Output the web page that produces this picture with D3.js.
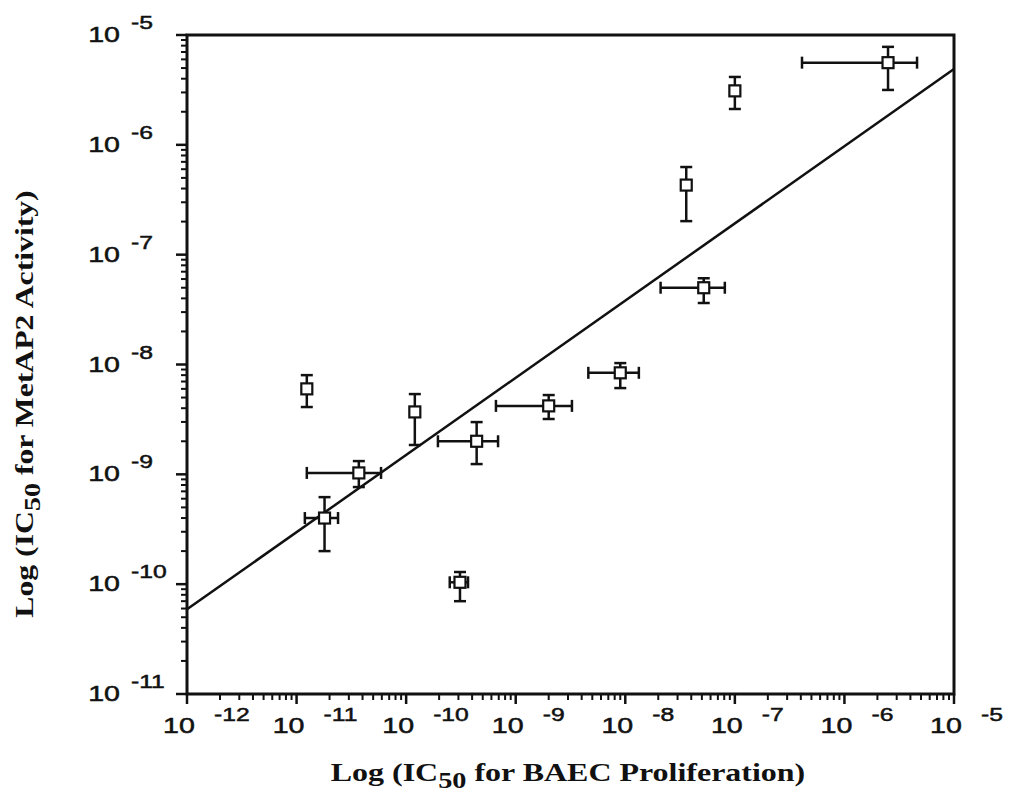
<!DOCTYPE html>
<html>
<head>
<meta charset="utf-8">
<script src="https://cdn.jsdelivr.net/npm/d3@7"></script>
<style>
  body { margin: 0; background: #fff; }
  svg { display: block; }
</style>
</head>
<body>
<svg id="chart" width="1012" height="794"></svg>
<script>
// IC50 values (molar)
const xVal = [2.5e-6, 1.0e-7, 3.6e-8, 5.2e-8, 9.0e-9, 2.0e-9, 4.4e-10, 1.2e-10, 3.7e-11, 1.8e-11, 3.1e-10, 1.24e-11];
const xLo  = [4.1e-7, 0.94e-7, null, 2.1e-8, 4.6e-9, 6.6e-10, 1.95e-10, null, 1.24e-11, 1.19e-11, 2.5e-10, null];
const xHi  = [4.6e-6, 1.065e-7, null, 8.1e-8, 1.33e-8, 3.26e-9, 6.9e-10, null, 5.9e-11, 2.39e-11, 3.67e-10, null];
const yVal = [5.6e-6, 3.1e-6, 4.3e-7, 5.0e-8, 8.4e-9, 4.2e-9, 2.0e-9, 3.7e-9, 1.03e-9, 4.0e-10, 1.04e-10, 6.0e-9];
const yLo  = [3.16e-6, 2.12e-6, 2.02e-7, 3.63e-8, 6.1e-9, 3.19e-9, 1.24e-9, 1.85e-9, 7.66e-10, 2.0e-10, 7.0e-11, 4.1e-9];
const yHi  = [7.8e-6, 4.15e-6, 6.28e-7, 6.1e-8, 1.03e-8, 5.27e-9, 2.99e-9, 5.38e-9, 1.32e-9, 6.2e-10, 1.29e-10, 8.0e-9];

// regression line end points
const fitX = [1e-12, 1e-5];
const fitY = [5.9e-11, 4.9e-6];

const xExp = [-12, -11, -10, -9, -8, -7, -6, -5];
const yExp = [-11, -10, -9, -8, -7, -6, -5];

const margin = { top: 35, bottom: 100, left: 187, right: 58 };
const width = 1012, height = 794;

const svg = d3.select("#chart");

let xScale = d3.scaleLog().domain([1e-12, 1e-5]).range([margin.left, width - margin.right]);
let yScale = d3.scaleLog().domain([1e-11, 1e-5]).range([height - margin.bottom, margin.top]);

const x0 = xScale.range()[0], x1 = xScale.range()[1];
const y0 = yScale.range()[0], y1 = yScale.range()[1];

// minor + major ticks
let minorX = [], minorY = [];
xExp.slice(0, -1).forEach(e => { for (let k = 2; k < 10; k++) minorX.push(k * Math.pow(10, e)); });
yExp.slice(0, -1).forEach(e => { for (let k = 2; k < 10; k++) minorY.push(k * Math.pow(10, e)); });

const ink = "#111";

svg.append("g").selectAll("line").data(minorX).enter().append("line")
    .attr("x1", d => xScale(d)).attr("x2", d => xScale(d))
    .attr("y1", y0).attr("y2", y0 + 6)
    .attr("stroke", ink).attr("stroke-width", 2);
svg.append("g").selectAll("line").data(xExp).enter().append("line")
    .attr("x1", e => xScale(Math.pow(10, e))).attr("x2", e => xScale(Math.pow(10, e)))
    .attr("y1", y0).attr("y2", y0 + 10)
    .attr("stroke", ink).attr("stroke-width", 2.5);

svg.append("g").selectAll("line").data(minorY).enter().append("line")
    .attr("x1", x0 - 6).attr("x2", x0)
    .attr("y1", d => yScale(d)).attr("y2", d => yScale(d))
    .attr("stroke", ink).attr("stroke-width", 2);
svg.append("g").selectAll("line").data(yExp).enter().append("line")
    .attr("x1", x0 - 11).attr("x2", x0)
    .attr("y1", e => yScale(Math.pow(10, e))).attr("y2", e => yScale(Math.pow(10, e)))
    .attr("stroke", ink).attr("stroke-width", 2.5);

// frame
svg.append("rect")
    .attr("x", x0).attr("y", y1)
    .attr("width", x1 - x0).attr("height", y0 - y1)
    .attr("fill", "none").attr("stroke", ink).attr("stroke-width", 3);

// tick labels: "10" + raised exponent, wide sans
const lab = svg.append("g").style("font-family", "'Liberation Sans', Arial, sans-serif")
    .attr("fill", ink).attr("stroke", ink).attr("stroke-width", 0.5);

xExp.forEach(e => {
    let tx = xScale(Math.pow(10, e));
    lab.append("text").attr("transform", `translate(${tx - 8},733) scale(1.3,1)`)
        .attr("text-anchor", "middle").style("font-size", "22px").text("10");
    lab.append("text").attr("transform", `translate(${tx + 27},721) scale(1.3,1)`)
        .attr("text-anchor", "start").style("font-size", "19px").text(e);
});

yExp.forEach(e => {
    let ty = yScale(Math.pow(10, e));
    lab.append("text").attr("transform", `translate(120,${ty + 7}) scale(1.3,1)`)
        .attr("text-anchor", "end").style("font-size", "22px").text("10");
    lab.append("text").attr("transform", `translate(131,${ty - 6}) scale(1.3,1)`)
        .attr("text-anchor", "start").style("font-size", "19px").text(e);
});

// regression line
svg.append("line")
    .attr("x1", xScale(fitX[0])).attr("y1", yScale(fitY[0]))
    .attr("x2", xScale(fitX[1])).attr("y2", yScale(fitY[1]))
    .attr("stroke", ink).attr("stroke-width", 2.5);

// error bars
const pts = xVal.map((d, i) => ({ x: d, y: yVal[i], xl: xLo[i], xh: xHi[i], yl: yLo[i], yh: yHi[i] }));
const cap = 6;
const eb = svg.append("g").attr("stroke", ink).attr("stroke-width", 2.5);

pts.forEach(p => {
    let cx = xScale(p.x), cy = yScale(p.y);
    if (p.xl !== null) {
        let a = xScale(p.xl), b = xScale(p.xh);
        eb.append("line").attr("x1", a).attr("x2", b).attr("y1", cy).attr("y2", cy);
        eb.append("line").attr("x1", a).attr("x2", a).attr("y1", cy - cap).attr("y2", cy + cap);
        eb.append("line").attr("x1", b).attr("x2", b).attr("y1", cy - cap).attr("y2", cy + cap);
    }
    let a = yScale(p.yh), b = yScale(p.yl);
    eb.append("line").attr("x1", cx).attr("x2", cx).attr("y1", a).attr("y2", b);
    eb.append("line").attr("x1", cx - cap).attr("x2", cx + cap).attr("y1", a).attr("y2", a);
    eb.append("line").attr("x1", cx - cap).attr("x2", cx + cap).attr("y1", b).attr("y2", b);
});

// open squares
svg.append("g").selectAll("rect").data(pts).enter().append("rect")
    .attr("x", d => xScale(d.x) - 5.5).attr("y", d => yScale(d.y) - 5.5)
    .attr("width", 11).attr("height", 11)
    .attr("fill", "#fff").attr("stroke", ink).attr("stroke-width", 2.2);

// axis titles
const title = svg.append("g")
    .style("font-family", "'Liberation Serif', 'Times New Roman', serif")
    .style("font-weight", "bold").attr("fill", ink);

let xt = title.append("text").attr("transform", "translate(568,781) scale(1.23,1)")
    .attr("text-anchor", "middle").style("font-size", "26px");
xt.append("tspan").text("Log (IC");
xt.append("tspan").attr("dy", 7).style("font-size", "23px").text("50");
xt.append("tspan").attr("dy", -7).text(" for BAEC Proliferation)");

let yt = title.append("text").attr("transform", "translate(33,404) rotate(-90) scale(1.22,1)")
    .attr("text-anchor", "middle").style("font-size", "26px");
yt.append("tspan").text("Log (IC");
yt.append("tspan").attr("dy", 7).style("font-size", "23px").text("50");
yt.append("tspan").attr("dy", -7).text(" for MetAP2 Activity)");
</script>
</body>
</html>
